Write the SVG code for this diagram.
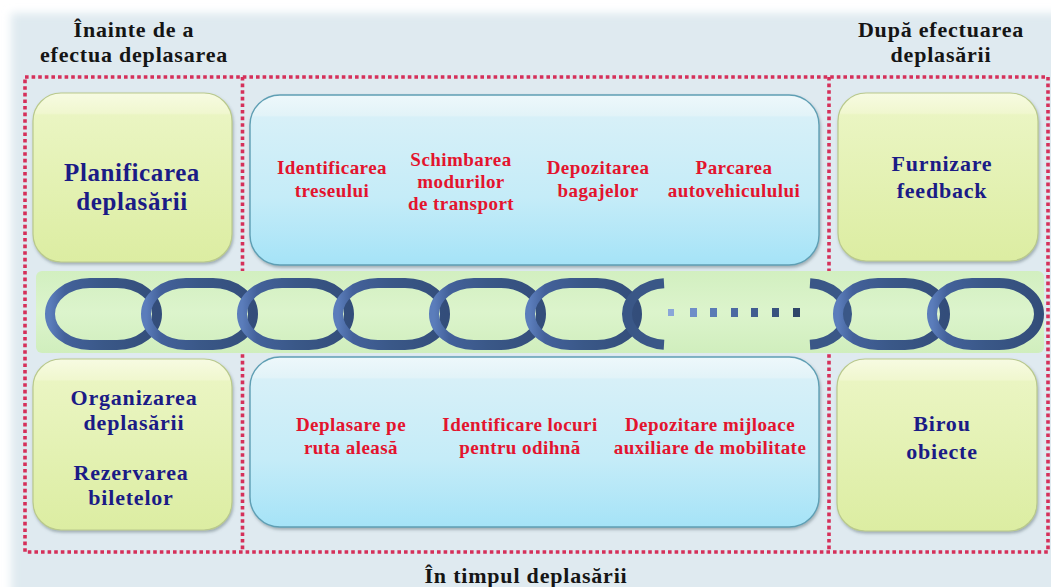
<svg xmlns="http://www.w3.org/2000/svg" width="1051" height="587" viewBox="0 0 1051 587">
  <defs>
    <style>
      .hdr { font-family: "Liberation Serif", "DejaVu Serif", serif; font-weight: bold; font-size: 22px; fill: #151515; text-anchor: middle; letter-spacing: 0.8px; }
      .nv { font-family: "Liberation Serif", "DejaVu Serif", serif; font-weight: bold; font-size: 22px; fill: #1b1b86; text-anchor: middle; letter-spacing: 0.8px; }
      .nvl { font-size: 25px; letter-spacing: 0.6px; }
      .rd { font-family: "Liberation Serif", "DejaVu Serif", serif; font-weight: bold; font-size: 19px; fill: #e3142e; text-anchor: middle; letter-spacing: 0.45px; }
      .green { fill: url(#gGreen); stroke: #b9c98c; stroke-width: 1.2; filter: url(#shadow); }
      .blue { fill: url(#gBlue); stroke: #5f9fb4; stroke-width: 1.4; filter: url(#shadow); }
      .dots { fill: none; stroke: #d5305a; stroke-width: 3.6; stroke-dasharray: 3.6 3; }
      .link { fill: none; stroke: url(#gLink); stroke-width: 10; }
      .half { fill: none; stroke: #3a5787; stroke-width: 10; }
    </style>
    <linearGradient id="gGreen" x1="0" y1="0" x2="0" y2="1">
      <stop offset="0" stop-color="#f7fbe2"/>
      <stop offset="0.12" stop-color="#f0f7cf"/>
      <stop offset="0.13" stop-color="#eaf5c2"/>
      <stop offset="1" stop-color="#dcedA2"/>
    </linearGradient>
    <linearGradient id="gBlue" x1="0" y1="0" x2="0" y2="1">
      <stop offset="0" stop-color="#eef8fb"/>
      <stop offset="0.12" stop-color="#e2f3f8"/>
      <stop offset="0.13" stop-color="#d7f0f8"/>
      <stop offset="0.6" stop-color="#c5ecf8"/>
      <stop offset="1" stop-color="#a5e3f7"/>
    </linearGradient>
    <linearGradient id="gBand" x1="0" y1="0" x2="0" y2="1">
      <stop offset="0" stop-color="#d2efc0"/>
      <stop offset="0.5" stop-color="#dcf4cc"/>
      <stop offset="1" stop-color="#d0eebd"/>
    </linearGradient>
    <linearGradient id="gLink" x1="0" y1="0" x2="1" y2="0">
      <stop offset="0" stop-color="#5b7dbb"/>
      <stop offset="0.14" stop-color="#43619a"/>
      <stop offset="0.5" stop-color="#3a5888"/>
      <stop offset="1" stop-color="#334d7a"/>
    </linearGradient>
    <filter id="shadow" x="-5%" y="-5%" width="112%" height="115%">
      <feDropShadow dx="1" dy="2" stdDeviation="1.5" flood-color="#4f6068" flood-opacity="0.45"/>
    </filter>
    <filter id="soft" x="-2%" y="-2%" width="104%" height="104%">
      <feGaussianBlur stdDeviation="4"/>
    </filter>
  </defs>

  <!-- page and backdrop panel -->
  <rect x="0" y="0" width="1051" height="587" fill="#ffffff"/>
  <rect x="11" y="13" width="1060" height="600" fill="#dfeaf0" filter="url(#soft)"/>

  <!-- phase headings -->
  <g id="heading-before">
    <text class="hdr" x="134" y="37">Înainte de a</text>
    <text class="hdr" x="134" y="62">efectua deplasarea</text>
  </g>
  <g id="heading-after">
    <text class="hdr" x="941" y="37">După efectuarea</text>
    <text class="hdr" x="941" y="62">deplasării</text>
  </g>
  <g id="heading-during">
    <text class="hdr" x="526" y="583">În timpul deplasării</text>
  </g>

  <!-- dotted phase frames -->
  <g id="frames">
    <rect class="dots" x="25" y="77" width="1023" height="475"/>
    <line class="dots" x1="242.5" y1="77" x2="242.5" y2="552"/>
    <line class="dots" x1="829" y1="77" x2="829" y2="552"/>
  </g>

  <!-- band under the chain -->
  <rect x="36" y="271" width="1008" height="82" rx="6" fill="url(#gBand)"/>

  <!-- before the trip -->
  <g id="node-planificare">
    <rect class="green" x="33" y="93" width="199" height="169" rx="28"/>
    <text class="nv nvl" x="132" y="181">Planificarea</text>
    <text class="nv nvl" x="132" y="210">deplasării</text>
  </g>
  <g id="node-organizare">
    <rect class="green" x="33" y="359" width="199" height="171" rx="28"/>
    <text class="nv" x="134" y="405">Organizarea</text>
    <text class="nv" x="134" y="430">deplasării</text>
    <text class="nv" x="131" y="480">Rezervarea</text>
    <text class="nv" x="131" y="505">biletelor</text>
  </g>

  <!-- during the trip -->
  <g id="node-during-top">
    <rect class="blue" x="250" y="95" width="569" height="170" rx="30"/>
    <text class="rd" x="332" y="174">Identificarea</text>
    <text class="rd" x="332" y="197">treseului</text>
    <text class="rd" x="461" y="166">Schimbarea</text>
    <text class="rd" x="461" y="188">modurilor</text>
    <text class="rd" x="461" y="210">de transport</text>
    <text class="rd" x="598" y="174">Depozitarea</text>
    <text class="rd" x="598" y="197">bagajelor</text>
    <text class="rd" x="734" y="174">Parcarea</text>
    <text class="rd" x="734" y="197">autovehiculului</text>
  </g>
  <g id="node-during-bottom">
    <rect class="blue" x="250" y="357" width="569" height="170" rx="30"/>
    <text class="rd" x="351" y="431">Deplasare pe</text>
    <text class="rd" x="351" y="454">ruta aleasă</text>
    <text class="rd" x="520" y="431">Identificare locuri</text>
    <text class="rd" x="520" y="454">pentru odihnă</text>
    <text class="rd" x="710" y="431">Depozitare mijloace</text>
    <text class="rd" x="710" y="454">auxiliare de mobilitate</text>
  </g>

  <!-- after the trip -->
  <g id="node-feedback">
    <rect class="green" x="838" y="93" width="200" height="168" rx="28"/>
    <text class="nv" x="942" y="171">Furnizare</text>
    <text class="nv" x="942" y="198">feedback</text>
  </g>
  <g id="node-birou">
    <rect class="green" x="837" y="359" width="200" height="172" rx="28"/>
    <text class="nv" x="942" y="431">Birou</text>
    <text class="nv" x="942" y="459">obiecte</text>
  </g>

  <!-- chain linking the phases -->
  <g id="chain">
    <rect class="link" x="50" y="283" width="107" height="62" rx="40" ry="31"/>
    <rect class="link" x="146" y="283" width="107" height="62" rx="40" ry="31"/>
    <rect class="link" x="242" y="283" width="107" height="62" rx="40" ry="31"/>
    <rect class="link" x="338" y="283" width="107" height="62" rx="40" ry="31"/>
    <rect class="link" x="434" y="283" width="107" height="62" rx="40" ry="31"/>
    <rect class="link" x="530" y="283" width="107" height="62" rx="40" ry="31"/>
    <path class="half" d="M664,283.2 A40,31 0 0 0 627,314 A40,31 0 0 0 664,344.8"/>
    <g id="ellipsis">
      <rect x="668" y="309" width="6" height="7" fill="#8aa6d8"/>
      <rect x="690" y="308" width="7" height="9" fill="#6f8ec8"/>
      <rect x="710" y="308" width="7" height="9" fill="#5a7bb5"/>
      <rect x="731" y="308" width="7" height="9" fill="#4c6aa2"/>
      <rect x="751" y="308" width="7" height="9" fill="#415d90"/>
      <rect x="772" y="308" width="7" height="9" fill="#38527f"/>
      <rect x="793" y="308" width="7" height="9" fill="#2f4669"/>
    </g>
    <path class="half" d="M810,283.2 A40,31 0 0 1 847,314 A40,31 0 0 1 810,344.8"/>
    <rect class="link" x="838" y="283" width="107" height="62" rx="40" ry="31"/>
    <rect class="link" x="932" y="283" width="107" height="62" rx="40" ry="31"/>
  </g>
</svg>
